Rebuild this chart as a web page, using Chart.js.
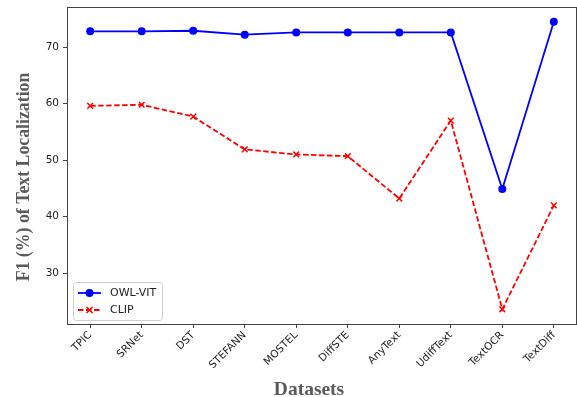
<!DOCTYPE html>
<html>
<head>
<meta charset="utf-8">
<script src="https://cdn.jsdelivr.net/npm/chart.js@4.4.0/dist/chart.umd.min.js"></script>
<style>
  html, body { margin: 0; padding: 0; background: #fff; }
  canvas { display: block; }
</style>
</head>
<body>
<canvas id="c" width="577" height="397"></canvas>
<script>
const categories = ["TPIC", "SRNet", "DST", "STEFANN", "MOSTEL", "DiffSTE", "AnyText", "UdiffText", "TextOCR", "TextDiff"];
const owlVit = [72.8, 72.8, 72.9, 72.2, 72.6, 72.6, 72.6, 72.6, 44.9, 74.5];
const clip = [59.6, 59.8, 57.7, 51.9, 51.0, 50.7, 43.2, 57.0, 23.6, 42.0];
const yTicks = [30, 40, 50, 60, 70];
const yTitle = "F1 (%) of Text Localization";
const xTitle = "Datasets";

const toPts = arr => arr.map((v, i) => ({ x: i, y: v }));

const framePlugin = {
  id: 'frame',
  afterDraw(chart) {
    const ctx = chart.ctx;
    const a = chart.chartArea;
    ctx.save();
    ctx.strokeStyle = '#444';
    ctx.lineWidth = 1;
    ctx.strokeRect(Math.round(a.left) + 0.5, Math.round(a.top) + 0.5, Math.round(a.right - a.left) - 1, Math.round(a.bottom - a.top));
    ctx.fillStyle = '#5a5a5a';
    ctx.textAlign = 'center';
    ctx.textBaseline = 'middle';
    ctx.font = 'bold 19.5px "Liberation Serif", "Times New Roman", serif';
    ctx.fillText(xTitle, 309, 390);
    ctx.font = 'bold 17.8px "Liberation Serif", "Times New Roman", serif';
    ctx.translate(24, 177);
    ctx.rotate(-Math.PI / 2);
    ctx.fillText(yTitle, 0, 0);
    ctx.restore();

    // legend
    ctx.save();
    const lx = 73, ly = 282, lw = 89, lh = 38;
    ctx.fillStyle = 'rgba(255,255,255,0.85)';
    ctx.strokeStyle = '#d0d0d0';
    ctx.lineWidth = 1;
    ctx.beginPath();
    if (ctx.roundRect) ctx.roundRect(lx + 0.5, ly + 0.5, lw, lh, 3); else ctx.rect(lx + 0.5, ly + 0.5, lw, lh);
    ctx.fill();
    ctx.stroke();
    const ds = chart.data.datasets;
    const rows = [ly + 11, ly + 28];
    ds.forEach((d, i) => {
      const y = rows[i];
      ctx.strokeStyle = d.borderColor;
      ctx.lineWidth = d.borderWidth;
      ctx.setLineDash(d.borderDash || []);
      ctx.beginPath();
      ctx.moveTo(78, y);
      ctx.lineTo(101, y);
      ctx.stroke();
      ctx.setLineDash([]);
      if (d.pointStyle === 'circle') {
        ctx.fillStyle = d.pointBackgroundColor;
        ctx.beginPath();
        ctx.arc(89.5, y, 4, 0, Math.PI * 2);
        ctx.fill();
      } else {
        ctx.strokeStyle = d.pointBorderColor;
        ctx.lineWidth = 1.5;
        ctx.beginPath();
        ctx.moveTo(86.5, y - 3); ctx.lineTo(92.5, y + 3);
        ctx.moveTo(92.5, y - 3); ctx.lineTo(86.5, y + 3);
        ctx.stroke();
      }
      ctx.fillStyle = '#222';
      ctx.font = '11px "DejaVu Sans", sans-serif';
      ctx.textAlign = 'left';
      ctx.textBaseline = 'middle';
      ctx.fillText(d.label, 110, y + 0.5);
    });
    ctx.restore();
  }
};

new Chart(document.getElementById('c'), {
  type: 'line',
  data: {
    datasets: [
      {
        label: 'OWL-VIT',
        data: toPts(owlVit),
        borderColor: '#0000ff',
        backgroundColor: '#0000ff',
        pointBackgroundColor: '#0000ff',
        pointBorderColor: '#0000ff',
        borderWidth: 1.8,
        pointStyle: 'circle',
        pointRadius: 4,
        pointBorderWidth: 0,
        tension: 0
      },
      {
        label: 'CLIP',
        data: toPts(clip),
        borderColor: '#ff0000',
        backgroundColor: '#ff0000',
        pointBackgroundColor: '#ff0000',
        pointBorderColor: '#ff0000',
        borderWidth: 1.8,
        borderDash: [5.5, 2.5],
        pointStyle: 'crossRot',
        pointRadius: 4,
        pointBorderWidth: 1.5,
        tension: 0
      }
    ]
  },
  options: {
    responsive: false,
    animation: false,
    devicePixelRatio: 1,
    layout: { autoPadding: false, padding: { top: 7, right: 0, left: 0, bottom: 0 } },
    plugins: { legend: { display: false }, tooltip: { enabled: false } },
    scales: {
      x: {
        type: 'linear',
        min: -0.45,
        max: 9.45,
        afterBuildTicks: s => { s.ticks = categories.map((c, i) => ({ value: i })); },
        afterFit: s => { s.height = 73; s.paddingLeft = 0; s.paddingRight = 0; },
        ticks: {
          autoSkip: false,
          minRotation: 45,
          maxRotation: 45,
          padding: 1,
          color: '#222',
          font: { family: '"DejaVu Sans", sans-serif', size: 10.5 },
          callback: v => categories[v]
        },
        grid: { drawOnChartArea: false, drawTicks: true, tickLength: 4, color: '#444' },
        border: { display: false }
      },
      y: {
        type: 'linear',
        min: 21.0,
        max: 77.1,
        afterBuildTicks: s => { s.ticks = yTicks.map(v => ({ value: v })); },
        afterFit: s => { s.width = 67; s.paddingTop = 0; s.paddingBottom = 0; },
        ticks: {
          padding: 4,
          color: '#222',
          font: { family: '"DejaVu Sans", sans-serif', size: 10.5 }
        },
        grid: { drawOnChartArea: false, drawTicks: true, tickLength: 4, color: '#444' },
        border: { display: false }
      }
    }
  },
  plugins: [framePlugin]
});
</script>
</body>
</html>
